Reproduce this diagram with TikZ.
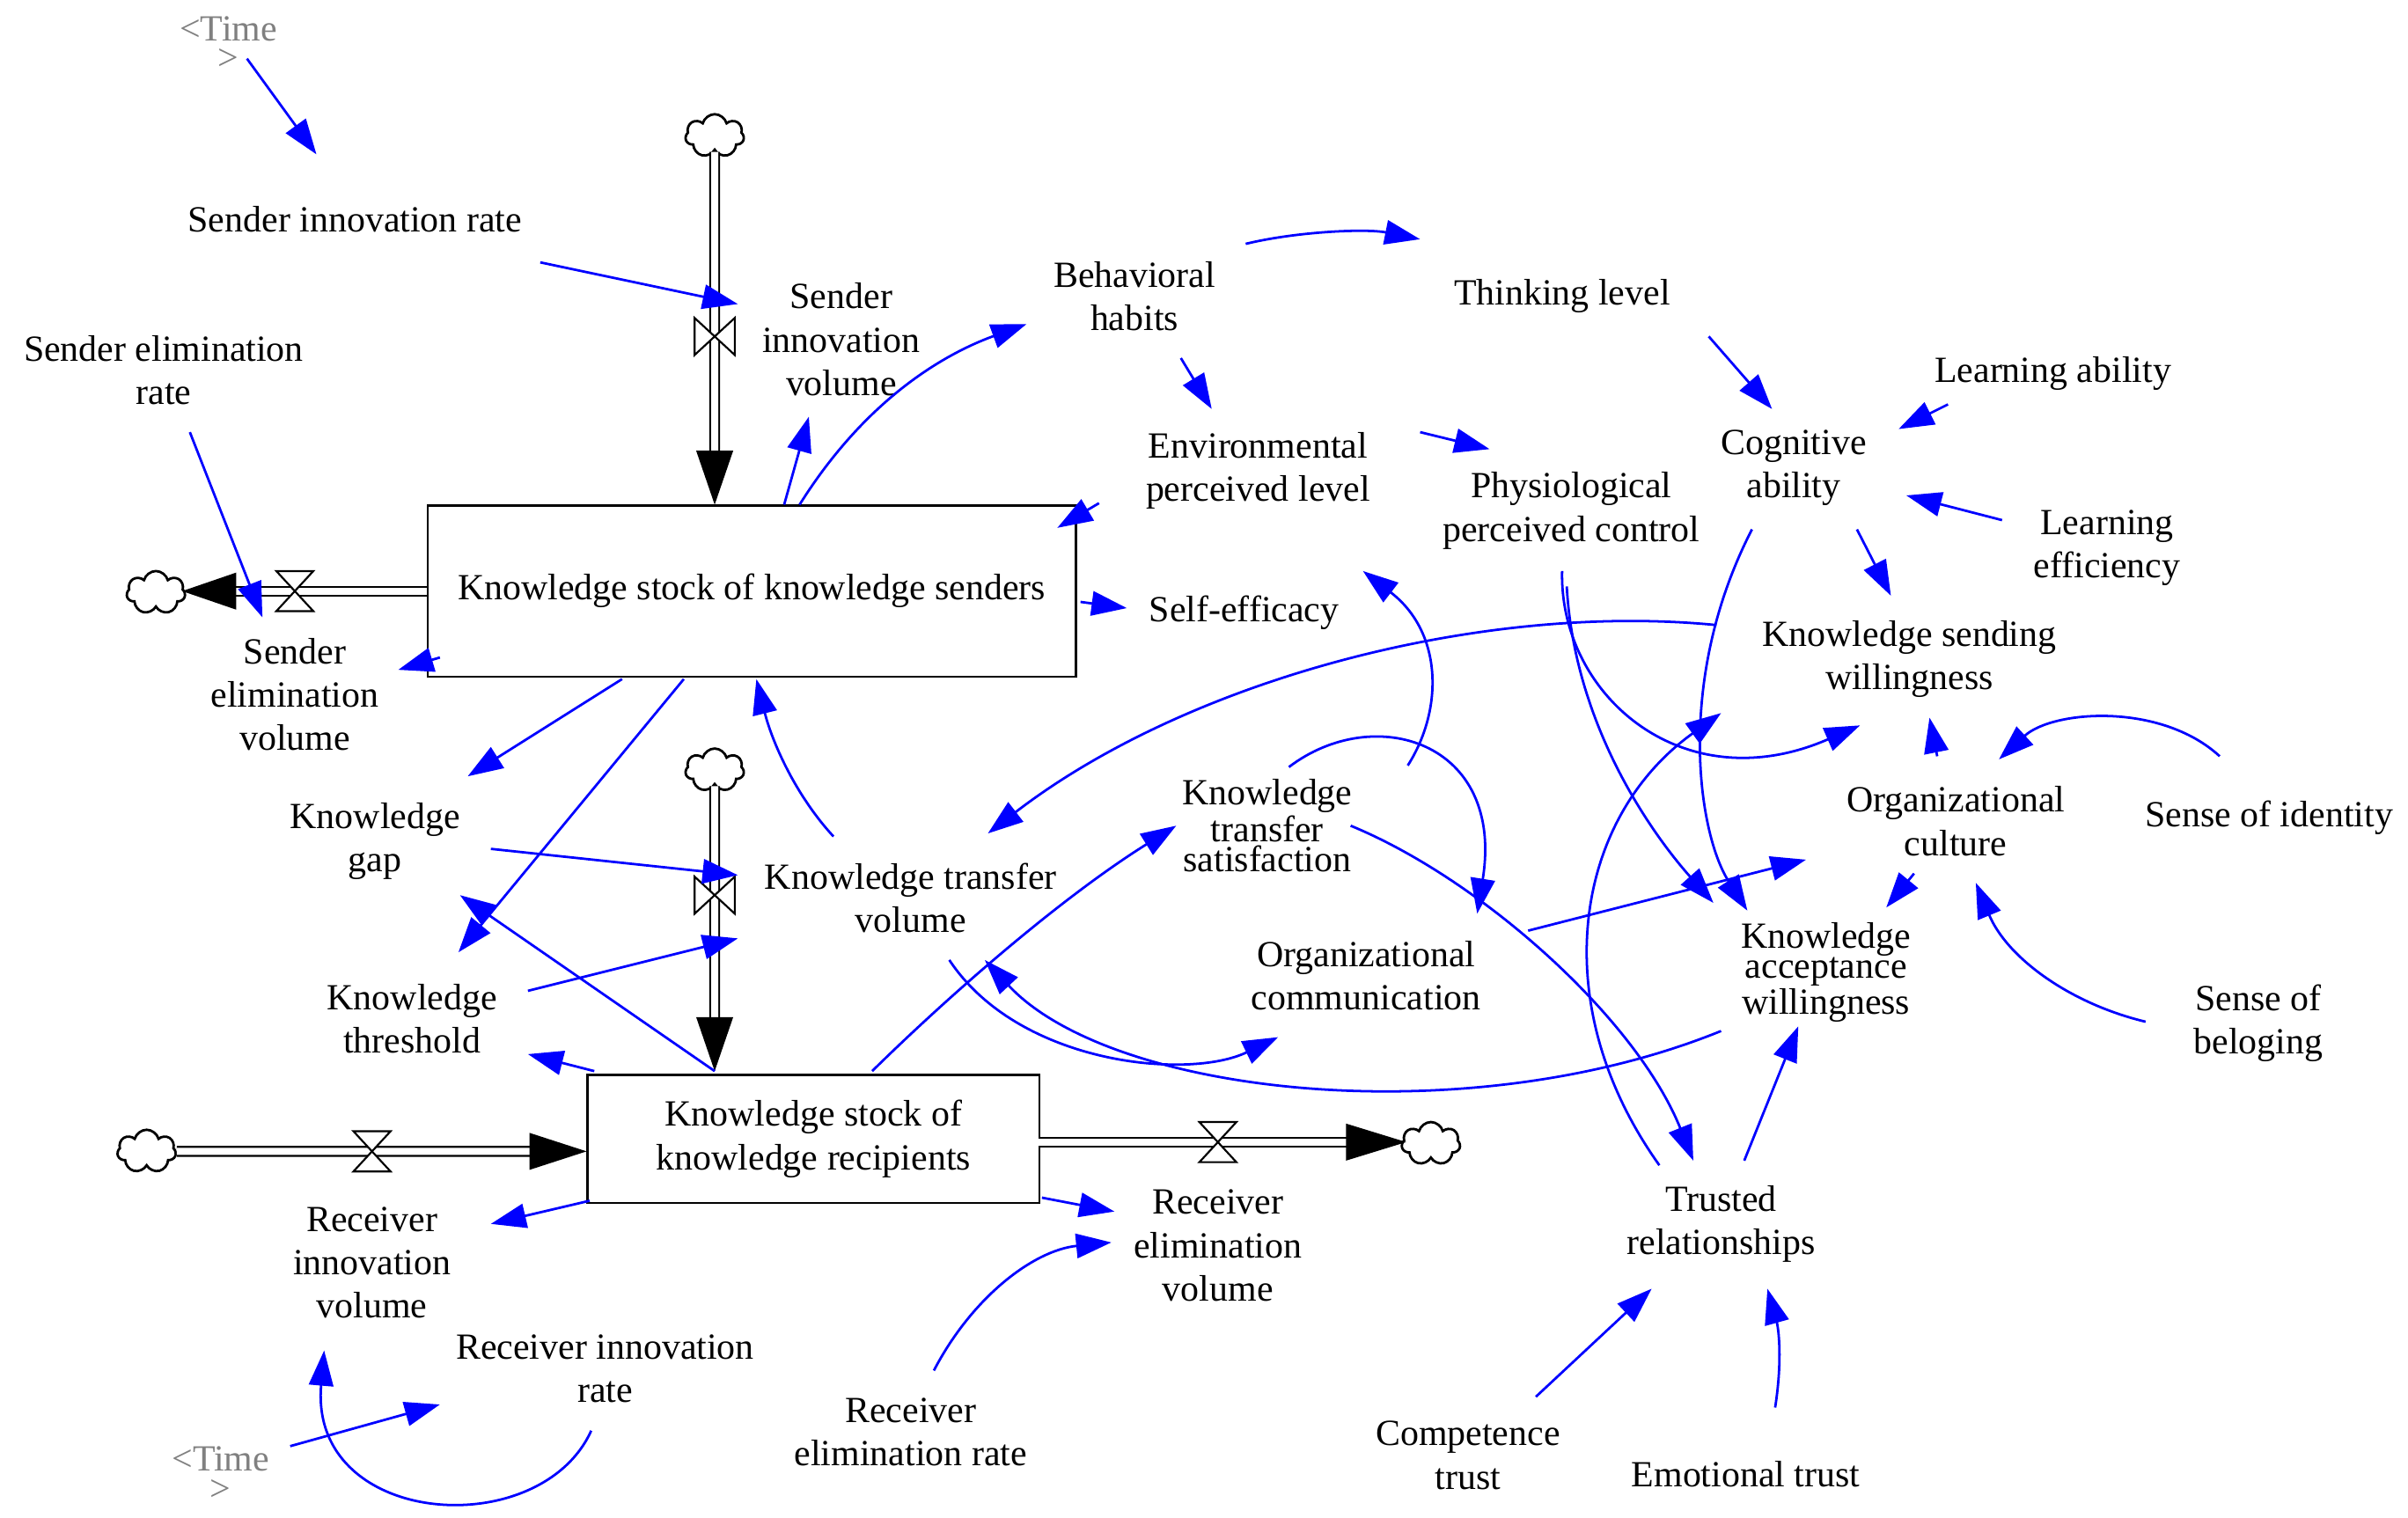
\documentclass[tikz,border=0pt]{standalone}
\usepackage{fontspec}
\setmainfont{Liberation Serif}
\usetikzlibrary{arrows.meta,shapes.symbols}
\begin{document}
\begin{tikzpicture}[x=0.02cm,y=-0.02cm,
  lab/.style={align=center,font=\fontsize{13.6}{16}\selectfont,inner sep=1pt},
  tlab/.style={align=center,font=\fontsize{13.6}{11}\selectfont,inner sep=1pt},
  gl/.style={align=center,font=\fontsize{13.6}{11}\selectfont,text=gray,inner sep=1pt},
  ar/.style={blue,line width=0.9pt,-{Triangle[length=13pt,width=9pt]}},
  flow/.style={double,double distance=2.6pt,line width=0.7pt},
  stock/.style={draw,line width=0.8pt,align=center,font=\fontsize{13.6}{16}\selectfont},
  cl/.style={cloud,cloud puffs=7,draw,line width=0.9pt,minimum width=38*0.02cm,minimum height=28*0.02cm,inner sep=0pt,aspect=1.3}]
\useasboundingbox (0,0) rectangle (1560,983);
\newcommand{\hvalve}[2]{\draw[line width=0.7pt,fill=white] (#1-12,#2-13) -- (#1+12,#2-13) -- (#1-12,#2+13) -- (#1+12,#2+13) -- cycle;}
\newcommand{\vvalve}[2]{\draw[line width=0.7pt,fill=white] (#1-13,#2-12) -- (#1-13,#2+12) -- (#1+13,#2-12) -- (#1+13,#2+12) -- cycle;}
% stocks
\node[stock,minimum width=420*0.02cm,minimum height=111*0.02cm] (ks) at (487,383) {Knowledge stock of knowledge senders};
\node[stock,minimum width=293*0.02cm,minimum height=83*0.02cm] (kr) at (527,738) {Knowledge stock of\\knowledge recipients};
% clouds
\node[cl] (c1) at (463,88) {};
\node[cl] (c2) at (101,384) {};
\node[cl] (c3) at (463,499) {};
\node[cl] (c4) at (95,746) {};
\node[cl] (c5) at (927,741) {};
% flows
\draw[flow] (c1.south) -- (463,295);
\fill (451,292) -- (475,292) -- (463,327) -- cycle;
\vvalve{463}{218}
\draw[flow] (ks.west |- 0,383) -- (150,383);
\fill (153,371) -- (153,395) -- (118,383) -- cycle;
\hvalve{191}{383}
\draw[flow] (c3.south) -- (463,662);
\fill (451,659) -- (475,659) -- (463,694) -- cycle;
\vvalve{463}{580}
\draw[flow] (c4.east) -- (345,746);
\fill (343,734) -- (343,758) -- (380,746) -- cycle;
\hvalve{241}{746}
\draw[flow] (673,740) -- (875,740);
\fill (872,728) -- (872,752) -- (911,740) -- cycle;
\hvalve{789}{740}
% labels
\node[gl] (t1) at (148,28) {<Time\\>};
\node[lab] (sir) at (230,142) {Sender innovation rate};
\node[lab] (sel) at (106,240) {Sender elimination\\rate};
\node[lab] (siv) at (545,220) {Sender\\innovation\\volume};
\node[lab] (bh) at (735,192) {Behavioral\\habits};
\node[lab] (tl) at (1012,192) {Thinking level};
\node[lab] (la) at (1330,242) {Learning ability};
\node[lab] (ca) at (1162,303) {Cognitive\\ability};
\node[lab] (le) at (1365,355) {Learning\\efficiency};
\node[lab] (epl) at (815,305) {Environmental\\perceived level};
\node[lab] (ppc) at (1018,331) {Physiological\\perceived control};
\node[lab] (se) at (806,397) {Self-efficacy};
\node[lab] (sev) at (191,450) {Sender\\elimination\\volume};
\node[lab] (ksw) at (1237,427) {Knowledge sending\\willingness};
\node[lab] (kg) at (243,545) {Knowledge\\gap};
\node[tlab] (kts) at (821,535) {Knowledge\\transfer\\satisfaction};
\node[lab] (oc) at (1267,532) {Organizational\\culture};
\node[lab] (soi) at (1470,530) {Sense of identity};
\node[lab] (ktv) at (590,582) {Knowledge transfer\\volume};
\node[lab] (kt) at (267,660) {Knowledge\\threshold};
\node[lab] (ocom) at (885,632) {Organizational\\communication};
\node[tlab] (kaw) at (1183,630) {Knowledge\\acceptance\\willingness};
\node[lab] (sob) at (1463,663) {Sense of\\beloging};
\node[lab] (riv) at (241,818) {Receiver\\innovation\\volume};
\node[lab] (rev) at (789,807) {Receiver\\elimination\\volume};
\node[lab] (rir) at (392,887) {Receiver innovation\\rate};
\node[lab] (rer) at (590,928) {Receiver\\elimination rate};
\node[lab] (tr) at (1115,793) {Trusted\\relationships};
\node[lab] (ct) at (951,943) {Competence\\trust};
\node[lab] (et) at (1131,955) {Emotional trust};
\node[gl] (t2) at (143,955) {<Time\\>};
% links
\draw[ar] (160,38) -- (205,100);
\draw[ar] (350,170) -- (478,197);
\draw[ar] (123,280) -- (170,400);
\draw[ar] (508,327) -- (524,270);
\draw[ar] (518,327) .. controls (560,260) and (610,230) .. (665,210);
\draw[ar] (765,232) -- (785,265);
\draw[ar] (807,158) .. controls (840,150) and (885,148) .. (920,155);
\draw[ar] (1107,218) -- (1148,265);
\draw[ar] (1262,262) -- (1230,278);
\draw[ar] (1297,337) -- (1235,321);
\draw[ar] (1203,343) -- (1225,386);
\draw[ar] (920,280) -- (965,291);
\draw[ar] (712,326) -- (685,342);
\draw[ar] (700,390) -- (730,394);
\draw[ar] (285,426) -- (258,434);
\draw[ar] (403,440) -- (303,503);
\draw[ar] (443,440) -- (297,617);
\draw[ar] (463,694) -- (298,580);
\draw[ar] (385,694) -- (342,683);
\draw[ar] (318,550) -- (478,567);
\draw[ar] (342,642) -- (478,608);
\draw[ar] (540,542) .. controls (515,515) and (500,480) .. (490,440);
\draw[ar] (565,694) .. controls (620,640) and (690,580) .. (762,535);
\draw[ar] (835,497) .. controls (890,455) and (975,480) .. (957,592);
\draw[ar] (875,535) .. controls (960,570) and (1060,660) .. (1097,752);
\draw[ar] (912,496) .. controls (935,460) and (935,410) .. (883,370);
\draw[ar] (1112,405) .. controls (960,390) and (770,440) .. (640,540);
\draw[ar] (1115,668) .. controls (950,735) and (720,710) .. (638,622);
\draw[ar] (615,622) .. controls (660,690) and (770,700) .. (828,672);
\draw[ar] (990,603) -- (1170,557);
\draw[ar] (1012,370) .. controls (1010,450) and (1090,520) .. (1205,470);
\draw[ar] (1015,380) .. controls (1020,470) and (1070,540) .. (1110,585);
\draw[ar] (1135,343) .. controls (1085,440) and (1100,540) .. (1132,590);
\draw[ar] (1075,755) .. controls (1000,650) and (1020,530) .. (1115,462);
\draw[ar] (1130,752) -- (1165,665);
\draw[ar] (1255,490) -- (1250,465);
\draw[ar] (1240,566) -- (1222,588);
\draw[ar] (1438,490) .. controls (1400,455) and (1330,460) .. (1295,492);
\draw[ar] (1390,662) .. controls (1340,650) and (1300,620) .. (1280,572);
\draw[ar] (995,905) -- (1070,835);
\draw[ar] (1150,912) .. controls (1155,880) and (1152,860) .. (1145,835);
\draw[ar] (382,778) -- (318,793);
\draw[ar] (675,776) -- (722,785);
\draw[ar] (605,888) .. controls (630,840) and (670,810) .. (720,805);
\draw[ar] (188,937) -- (285,910);
\draw[ar] (383,927) .. controls (350,1000) and (200,990) .. (210,875);
\end{tikzpicture}
\end{document}
